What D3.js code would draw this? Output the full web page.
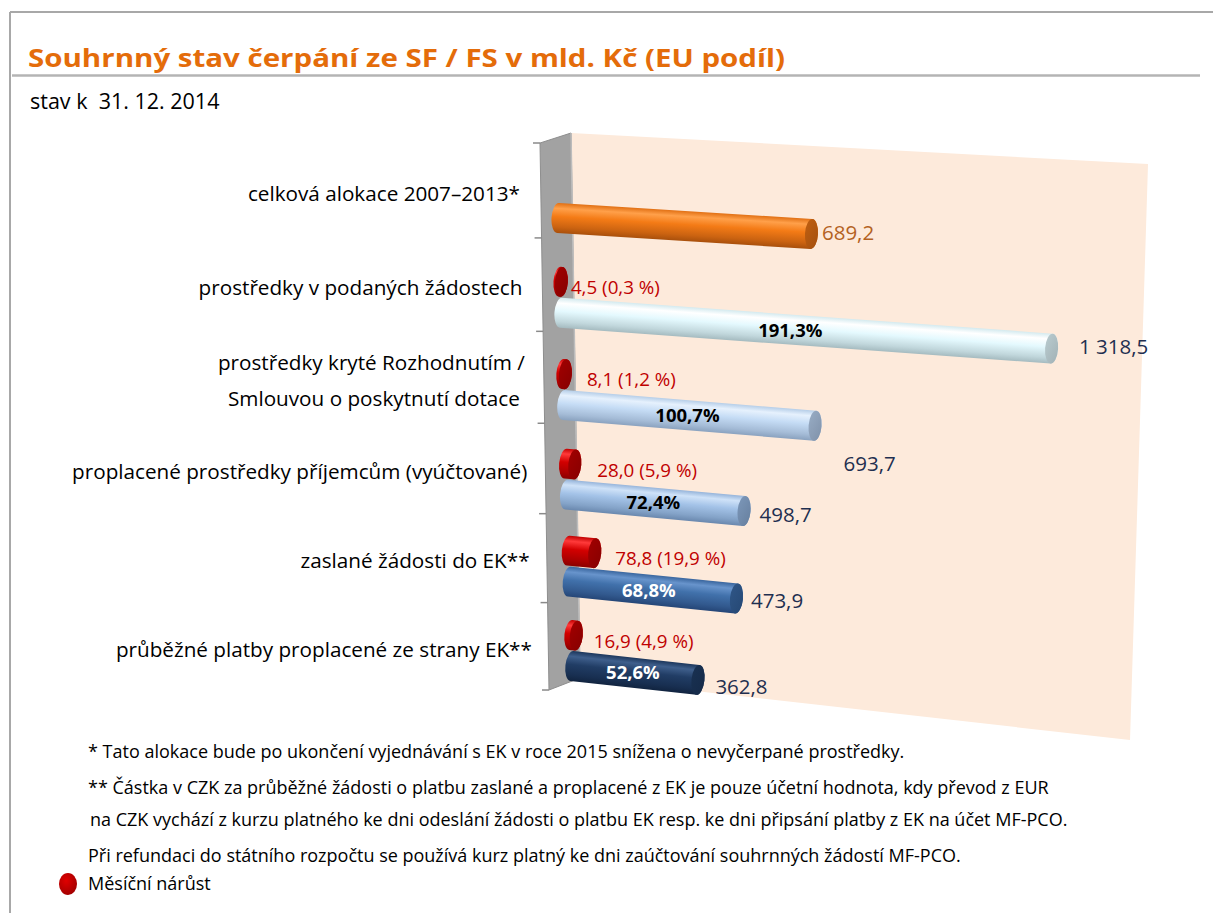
<!DOCTYPE html>
<html><head><meta charset="utf-8">
<script src="https://cdn.jsdelivr.net/npm/d3@7"></script>
<style>
body{margin:0;background:#fff}
svg{display:block}
text{font-family:"Open Sans","Noto Sans",sans-serif;white-space:pre}
</style>
</head><body>
<svg id="chart" width="1213" height="913"></svg>
<script>
// ---------------- DATA ----------------
const titleText = "Souhrnný stav čerpání ze SF / FS v mld. Kč (EU podíl)";
const subtitleText = "stav k  31. 12. 2014";
const categories = [
  ["celková alokace 2007–2013*"],
  ["prostředky v podaných žádostech"],
  ["prostředky kryté Rozhodnutím /", "Smlouvou o poskytnutí dotace"],
  ["proplacené prostředky příjemcům (vyúčtované)"],
  ["zaslané žádosti do EK**"],
  ["průběžné platby proplacené ze strany EK**"]
];
const totals = [689.2, 1318.5, 693.7, 498.7, 473.9, 362.8];          // mld. Kč
const shareOfAllocation = [null, 191.3, 100.7, 72.4, 68.8, 52.6];      // %
const monthlyGrowth = [null, 4.5, 8.1, 28.0, 78.8, 16.9];              // mld. Kč
const monthlyGrowthPct = [null, 0.3, 1.2, 5.9, 19.9, 4.9];             // %
const legendLabel = "Měsíční nárůst";
const footnotes = [
  "* Tato alokace bude po ukončení vyjednávání s EK v roce 2015 snížena o nevyčerpané prostředky.",
  "** Částka v CZK za průběžné žádosti o platbu zaslané a proplacené z EK je pouze účetní hodnota, kdy převod z EUR",
  " na CZK vychází z kurzu platného ke dni odeslání žádosti o platbu EK resp. ke dni připsání platby z EK na účet MF-PCO.",
  "Při refundaci do státního rozpočtu se používá kurz platný ke dni zaúčtování souhrnných žádostí MF-PCO."
];

// ---------------- STYLE ----------------
const barStyles = [
  {base:"#f47b16", light:"#ffa04a", dark:"#a9500c", cap:"#a4500f", pct:"#000", lbl:"#b4621f"},
  {base:"#e4f9fe", light:"#ffffff", dark:"#a5bbc0", cap:"#a2b2b6", pct:"#000", lbl:"#1f2f50"},
  {base:"#c5dcf5", light:"#e6f1fd", dark:"#8aa2bf", cap:"#8092aa", pct:"#000", lbl:"#1f2f50"},
  {base:"#a4c3e8", light:"#cfe2f8", dark:"#6a88ae", cap:"#67809f", pct:"#000", lbl:"#1f2f50"},
  {base:"#4171ab", light:"#6894cc", dark:"#254677", cap:"#264874", pct:"#fff", lbl:"#1f2f50"},
  {base:"#213d65", light:"#3f5f8c", dark:"#112440", cap:"#152a48", pct:"#fff", lbl:"#1f2f50"}
];
const redStyle = {base:"#d20000", light:"#ff3a3a", dark:"#8a0000", cap:"#870000"};
const redLabelColor = "#c00000";
const valueNudge = [[4,-2],[21,-2],[22,38],[9,3],[8,2],[11,6]];
const pctNudge = [0,-16,-2,-2,-4,-2];
const redNudge = [0,3,15,16,14,11];

// ---------------- LAYOUT (perspective approximation) ----------------
const tickY = i => 143 + 91.17*i + 0.75*i*(6-i);
const mainY = i => 218 + 89.6*i + 1.3*i*(5-i);
const redGap = 31;
const wallLeftX = y => 540 + (y-143)*(9/547);
const barStartX = y => 558 + 0.031*(y-218);
const pxPerUnit = y => 0.3772 - 0.0000278*(y-218);
const slopeAt = y => 0.063 + 0.000105*(y-218);
const R = 15, RX = 6.5;

const loc = d3.formatLocale({decimal:",", thousands:"\u00a0", grouping:[3], currency:["",""]});
const fmt = loc.format(",.1f");

const svg = d3.select("#chart");
const defs = svg.append("defs");

// frame
svg.append("line").attr("x1",10).attr("x2",1213).attr("y1",12).attr("y2",12).attr("stroke","#a8a8a8").attr("stroke-width",2);
svg.append("line").attr("x1",10).attr("x2",10).attr("y1",12).attr("y2",913).attr("stroke","#a8a8a8").attr("stroke-width",2);

// title
svg.append("text").attr("x",28).attr("y",67).attr("fill","#e46c0a").attr("font-weight","bold")
  .attr("font-size",25.5).attr("textLength",757).attr("lengthAdjust","spacingAndGlyphs").text(titleText);
svg.append("line").attr("x1",12).attr("x2",1200).attr("y1",75.5).attr("y2",75.5).attr("stroke","#b4b4b4").attr("stroke-width",2.5);
svg.append("text").attr("x",30).attr("y",109).attr("fill","#000").attr("font-size",21.5).text(subtitleText);

// walls
svg.append("polygon").attr("points",[[571,133],[1148,164],[1130,740],[580,678]].join(" "))
  .attr("fill","#fdeadb");
svg.append("polygon").attr("points",[[540,143],[571,133],[580,678],[549,690]].join(" "))
  .attr("fill","#a2a2a2").attr("stroke","#8e8e8e").attr("stroke-width",1);
svg.append("line").attr("x1",571).attr("y1",133).attr("x2",580).attr("y2",678).attr("stroke","#bdbdbd").attr("stroke-width",1.5);

// category axis ticks
d3.range(7).forEach(i => {
  const y = tickY(i), x = wallLeftX(y);
  svg.append("line").attr("x1",x-7).attr("x2",x).attr("y1",y).attr("y2",y).attr("stroke","#8a8a8a").attr("stroke-width",1.5);
});

// category labels
categories.forEach((lines,i) => {
  const yc = (tickY(i)+tickY(i+1))/2 + 3;
  const xr = 520 + (yc-193)*0.026;
  const n = lines.length;
  lines.forEach((t,j) => {
    svg.append("text").attr("x", xr - (n>1 && j===1 ? 5 : 0)).attr("y", yc + (j-(n-1)/2)*36)
      .attr("dy","0.35em").attr("text-anchor","end").attr("font-size",20.7).attr("fill","#000").text(t);
  });
});

// gradients
function makeGrad(id, s){
  const g = defs.append("linearGradient").attr("id",id).attr("x1",0).attr("y1",0).attr("x2",0).attr("y2",1);
  const m = (a,b,t)=>d3.interpolateRgb(a,b)(t);
  [[0,m(s.base,s.dark,0.25)],[0.18,s.light],[0.45,s.base],[0.8,m(s.base,s.dark,0.55)],[1,s.dark]]
    .forEach(([o,c])=>g.append("stop").attr("offset",o).attr("stop-color",c));
  const gc = defs.append("linearGradient").attr("id",id+"c").attr("x1",0).attr("y1",0).attr("x2",1).attr("y2",1);
  gc.append("stop").attr("offset",0).attr("stop-color",m(s.cap,s.base,0.35));
  gc.append("stop").attr("offset",1).attr("stop-color",s.cap);
}
barStyles.forEach((s,i)=>makeGrad("g"+i,s));
makeGrad("gred",redStyle);

// cylinder drawing via scales
function cylinder(yc, value, gradId){
  const x0 = barStartX(yc), k = pxPerUnit(yc);
  const x = d3.scalePow().exponent(1.03).domain([0,1500]).range([x0, x0 + 1500*k]);
  const L = x(value) - x0;
  const ang = Math.atan(slopeAt(yc));
  const g = svg.append("g").attr("transform",`translate(${x0},${yc}) rotate(${ang*180/Math.PI})`);
  g.append("path").attr("d",`M0,${-R} L${L},${-R} A${RX},${R} 0 0 1 ${L},${R} L0,${R} A${RX},${R} 0 0 1 0,${-R} Z`)
    .attr("fill",`url(#${gradId})`);
  g.append("ellipse").attr("cx",L).attr("cy",0).attr("rx",RX).attr("ry",R).attr("fill",`url(#${gradId}c)`);
  const c = Math.cos(ang), s = Math.sin(ang);
  return {mid:[x0 + L/2*c, yc + L/2*s], end:[x0 + (L+RX)*c, yc + (L+RX)*s]};
}

totals.forEach((v,i) => {
  const ym = mainY(i);
  if (monthlyGrowth[i] != null) {
    const yr = ym - redGap;
    const r = cylinder(yr, monthlyGrowth[i], "gred");
    svg.append("text").attr("x", r.end[0] + redNudge[i]).attr("y", r.end[1] + 5).attr("dy","0.35em")
      .attr("font-size",18.8).attr("fill",redLabelColor)
      .text(`${fmt(monthlyGrowth[i])} (${fmt(monthlyGrowthPct[i])} %)`);
  }
  const b = cylinder(ym, v, "g"+i);
  svg.append("text").attr("x", b.end[0] + valueNudge[i][0]).attr("y", b.end[1] + valueNudge[i][1]).attr("dy","0.35em")
    .attr("font-size",20.5).attr("fill",barStyles[i].lbl).text(fmt(v));
  if (shareOfAllocation[i] != null) {
    svg.append("text").attr("x", b.mid[0] + pctNudge[i]).attr("y", b.mid[1]).attr("dy","0.35em").attr("text-anchor","middle")
      .attr("font-size",18.5).attr("font-weight","bold").attr("fill",barStyles[i].pct)
      .text(fmt(shareOfAllocation[i]) + "%");
  }
});

// footnotes
const fnY = [752, 788, 820, 856];
footnotes.forEach((t,i)=>{
  svg.append("text").attr("x", i===2 ? 90 : 88).attr("y", fnY[i]).attr("dy","0.35em")
    .attr("font-size",18).attr("fill","#000").text(t.trim());
});
// legend
const lg = defs.append("radialGradient").attr("id","lgred").attr("cx","40%").attr("cy","35%").attr("r","70%");
lg.append("stop").attr("offset",0).attr("stop-color","#e00000");
lg.append("stop").attr("offset",1).attr("stop-color","#a00000");
svg.append("ellipse").attr("cx",68).attr("cy",884).attr("rx",9).attr("ry",11).attr("fill","url(#lgred)");
svg.append("text").attr("x",88).attr("y",884).attr("dy","0.35em").attr("font-size",18).attr("fill","#000").text(legendLabel);
</script>
</body></html>
